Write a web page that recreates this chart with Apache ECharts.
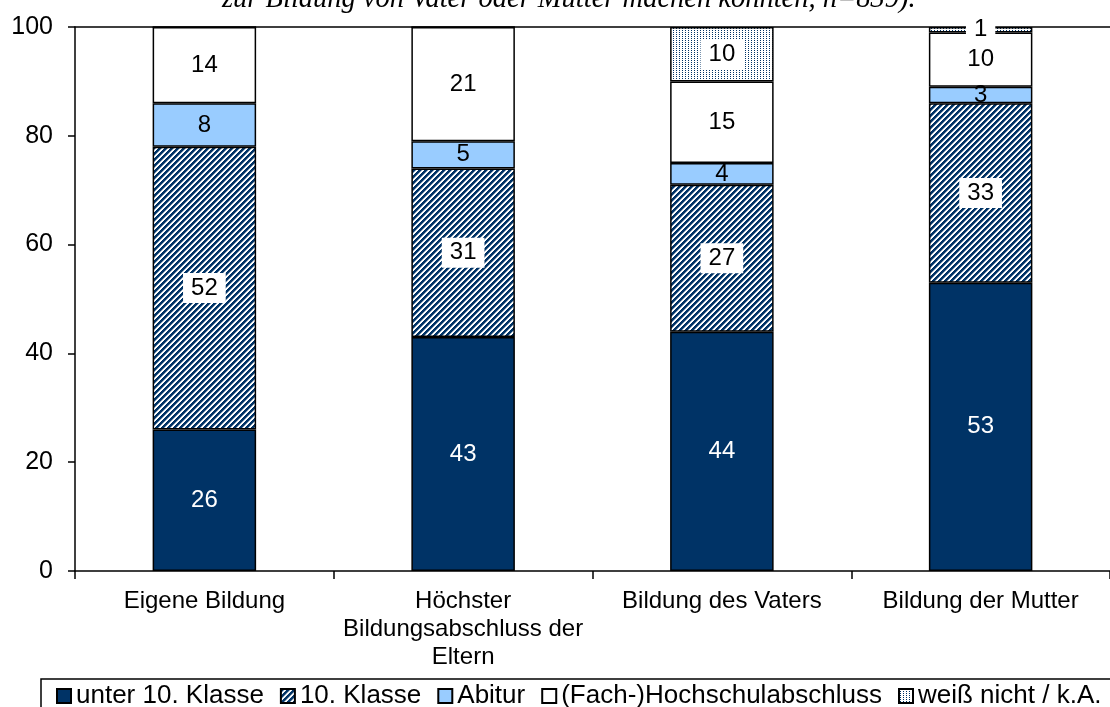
<!DOCTYPE html>
<html>
<head>
<meta charset="utf-8">
<script src="https://cdn.jsdelivr.net/npm/echarts@6/dist/echarts.min.js"></script>
<style>
  html, body { margin: 0; padding: 0; background: #fff; }
  #chart { width: 1110px; height: 707px; }
</style>
</head>
<body>
<div id="chart"></div>
<script>
// ---- data ----
const categories = ['Eigene Bildung', 'Höchster\nBildungsabschluss der\nEltern', 'Bildung des Vaters', 'Bildung der Mutter'];
const seriesNames = ['unter 10. Klasse', '10. Klasse', 'Abitur', '(Fach-)Hochschulabschluss', 'weiß nicht / k.A.'];
const unter10 = [26, 43, 44, 53];
const klasse10 = [52, 31, 27, 33];
const abitur = [8, 5, 4, 3];
const hochschule = [14, 21, 15, 10];
const weissNicht = [0, 0, 10, 1];
const yTicks = [0, 20, 40, 60, 80, 100];
const titleText = 'zur Bildung von Vater oder Mutter machen konnten, n=839).';

// ---- patterns ----
const NAVY = '#003366';
function makeStripe() {
  const n = 6;
  const c = document.createElement('canvas');
  c.width = n; c.height = n;
  const ctx = c.getContext('2d');
  ctx.fillStyle = '#fff'; ctx.fillRect(0, 0, n, n);
  ctx.fillStyle = NAVY;
  for (let x = 0; x < n; x++) for (let y = 0; y < n; y++) {
    if ((x + y) % n < 3) ctx.fillRect(x, y, 1, 1);
  }
  ctx.globalAlpha = 0.5;
  for (let x = 0; x < n; x++) for (let y = 0; y < n; y++) {
    if ((x + y) % n === 3) ctx.fillRect(x, y, 1, 1);
  }
  return c;
}
function makeDots() {
  const c = document.createElement('canvas');
  c.width = 3; c.height = 2;
  const ctx = c.getContext('2d');
  ctx.fillStyle = '#fff'; ctx.fillRect(0, 0, 3, 2);
  ctx.fillStyle = NAVY;
  ctx.fillRect(1, 0, 1, 1);
  return c;
}
const stripe = { image: makeStripe(), repeat: 'repeat' };
const dots = { image: makeDots(), repeat: 'repeat' };

const FONT = 'Liberation Sans, Arial, sans-serif';

function barSeries(name, data, color, labelColor, labelBg) {
  return {
    name: name,
    type: 'bar',
    stack: 'total',
    data: data.map(v => ({ value: v, label: { show: v !== 0 } })),
    barWidth: '40%',
    itemStyle: { color: color, borderColor: '#000', borderWidth: 1.5 },
    emphasis: { disabled: true },
    label: {
      show: true,
      position: 'inside',
      color: labelColor,
      fontFamily: FONT,
      fontSize: 24,
      backgroundColor: labelBg || 'transparent',
      padding: labelBg ? [4, 8, 2, 8] : 0
    }
  };
}

const chart = echarts.init(document.getElementById('chart'), null, { renderer: 'canvas' });
chart.setOption({
  animation: false,
  backgroundColor: '#fff',
  graphic: [{
    type: 'text',
    left: 222,
    top: -15,
    style: {
      text: titleText,
      font: 'italic 28.5px "Liberation Serif", "Times New Roman", serif',
      fill: '#000'
    }
  }],
  grid: { left: 75, top: 27, width: 1045, height: 544, containLabel: false },
  legend: {
    left: 41,
    top: 679,
    width: 1100,
    padding: [4, 20, 6, 15],
    borderColor: '#000',
    borderWidth: 1.5,
    icon: 'rect',
    itemWidth: 14,
    itemHeight: 14,
    itemGap: 16,
    textStyle: { fontFamily: FONT, fontSize: 26, color: '#000' },
    data: seriesNames
  },
  xAxis: [{
    type: 'category',
    data: categories,
    axisLine: { lineStyle: { color: '#000', width: 1.5 } },
    axisTick: { show: true, length: 8, lineStyle: { color: '#000', width: 1.5 } },
    axisLabel: { color: '#000', fontFamily: FONT, fontSize: 24, lineHeight: 28, margin: 16, interval: 0 }
  }, {
    type: 'category',
    position: 'top',
    data: categories,
    axisLine: { show: true, lineStyle: { color: '#000', width: 1.5 } },
    axisTick: { show: false },
    axisLabel: { show: false }
  }],
  yAxis: {
    type: 'value',
    min: yTicks[0],
    max: yTicks[yTicks.length - 1],
    interval: 20,
    axisLine: { show: true, lineStyle: { color: '#000', width: 1.5 } },
    axisTick: { show: true, length: 7, lineStyle: { color: '#000', width: 1.5 } },
    splitLine: { show: false },
    axisLabel: { color: '#000', fontFamily: FONT, fontSize: 25, margin: 22 }
  },
  series: [
    barSeries(seriesNames[0], unter10, NAVY, '#fff'),
    barSeries(seriesNames[1], klasse10, stripe, '#000', '#fff'),
    barSeries(seriesNames[2], abitur, '#99CCFF', '#000'),
    barSeries(seriesNames[3], hochschule, '#fff', '#000'),
    barSeries(seriesNames[4], weissNicht, dots, '#000', '#fff')
  ]
});
</script>
</body>
</html>
